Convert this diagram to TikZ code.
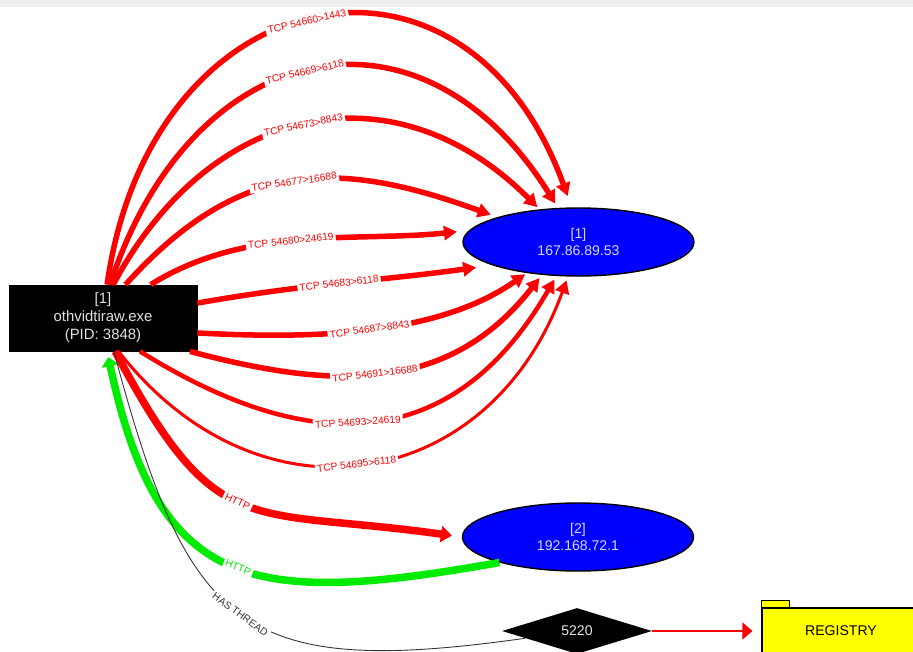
\documentclass[tikz,border=0pt]{standalone}
\usepackage{fontspec}
\setmainfont{Liberation Sans}
\usepackage{tikz}
\usetikzlibrary{arrows.meta,shapes.geometric}
\definecolor{netred}{RGB}{255,0,0}
\definecolor{netgreen}{RGB}{0,235,0}
\definecolor{netblue}{RGB}{0,0,255}
\definecolor{netyellow}{RGB}{255,255,0}
\definecolor{paletext}{RGB}{225,225,225}
\definecolor{hosttext}{RGB}{215,215,245}
\definecolor{topbar}{RGB}{239,239,239}
\tikzset{
    procbox/.style={
        rectangle,
        draw=black,
        fill=black,
        text=paletext,
        minimum width=3.76cm,
        minimum height=1.32cm,
        align=center,
        font=\fontsize{8.5}{10.2}\selectfont
    },
    host/.style={
        ellipse,
        draw=black,
        line width=0.8pt,
        fill=netblue,
        text=hosttext,
        minimum width=4.62cm,
        minimum height=1.36cm,
        inner sep=0pt,
        align=center,
        font=\fontsize{8}{9.6}\selectfont
    },
    thrd/.style={
        diamond,
        fill=black,
        text=paletext,
        aspect=3.2,
        minimum width=3.0cm,
        minimum height=0.92cm,
        inner sep=0pt,
        font=\fontsize{8}{9.6}\selectfont
    },
    regbox/.style={
        rectangle,
        draw=black,
        fill=netyellow,
        line width=0.6pt,
        minimum width=3.16cm,
        minimum height=0.92cm,
        font=\fontsize{8}{9.6}\selectfont
    },
    tab/.style={draw=black,fill=netyellow,line width=0.6pt},
    tcp/.style={-{Triangle[length=0.26cm,width=0.28cm]},netred,line width=0.11cm},
    http/.style={-{Triangle[length=0.22cm,width=0.32cm]},netred,line width=0.15cm},
    httpin/.style={-{Triangle[length=0.18cm,width=0.34cm]},netgreen,line width=0.15cm},
    regarr/.style={-{Triangle[length=0.2cm,width=0.34cm]},netred,line width=0.6pt},
    hasthr/.style={black!80,line width=0.5pt},
    lbl/.style={fill=white,inner sep=1.2pt,sloped,text=netred,font=\fontsize{5.8}{7}\selectfont}
}

\begin{document}
\begin{tikzpicture}
\useasboundingbox (0,0) rectangle (18.26,-13.04);
\fill[topbar] (0,0) rectangle (18.26,-0.14);

\node[procbox] (proc) at (2.06,-6.36) {[1]\\othvidtiraw.exe\\(PID: 3848)};
\node[host] (ip1) at (11.57,-4.84) {[1]\\167.86.89.53};
\node[host] (ip2) at (11.56,-10.74) {[2]\\192.168.72.1};
\node[thrd] (thread) at (11.54,-12.62) {5220};
\node[regbox] (reg) at (16.82,-12.62) {REGISTRY};
\draw[tab] (reg.north west) rectangle ++(0.56,0.14);

% tcp connections to the first host
\draw[tcp,shorten >=0.24cm] (proc.83) to[out=82,in=110,looseness=1.7]
    node[lbl,pos=0.485] {TCP 54660>1443} (ip1.101);
\draw[tcp,shorten >=0.1cm] (proc.78) to[out=72,in=122,looseness=1.47]
    node[lbl,pos=0.485] {TCP 54669>6118} (ip1.121);
\draw[tcp,shorten >=0.06cm] (proc.73) to[out=62,in=135,looseness=1.22]
    node[lbl,pos=0.49] {TCP 54673>8843} (ip1.140);
\draw[tcp,shorten >=0.14cm] (proc.56) to[out=48,in=160,looseness=1.15]
    node[lbl,pos=0.5] {TCP 54677>16688} (ip1.163);
\draw[tcp,shorten >=0.24cm] (proc.35) to[out=32,in=186,looseness=0.9]
    node[lbl,pos=0.46] {TCP 54680>24619} (ip1.174);
\draw[tcp,shorten >=0.32cm] (proc.9) to[out=10,in=188,looseness=1]
    node[lbl,pos=0.48] {TCP 54683>6118} (ip1.195);
\draw[tcp,shorten >=0.04cm] (proc.-9) to[out=-3,in=215,looseness=0.85]
    node[lbl,pos=0.5] {TCP 54687>8843} (ip1.211);
\draw[tcp,shorten >=0.08cm] (proc.-21) to[out=-15,in=232,looseness=1.07]
    node[lbl,pos=0.47] {TCP 54691>16688} (ip1.222);
\draw[tcp,line width=0.09cm,shorten >=0.08cm] (proc.-42) to[out=-32,in=240,looseness=1.23]
    node[lbl,pos=0.46] {TCP 54693>24619} (ip1.237);
\draw[tcp,line width=0.06cm,shorten >=0.08cm] (proc.-65) to[out=-52,in=250,looseness=1.29]
    node[lbl,pos=0.48] {TCP 54695>6118} (ip1.253);

% http both ways
\draw[http,shorten >=0.2cm] (proc.-70) to[out=-62,in=172,looseness=1.42]
    node[lbl,pos=0.47] {HTTP} (ip2.west);
\draw[httpin,shorten >=0.12cm] (ip2.198) to[out=190,in=-78,looseness=1.43]
    node[lbl,pos=0.48,text=netgreen] {HTTP} (proc.-83);

% thread
\draw[hasthr] (proc.-72) to[out=-75,in=188,looseness=1.47]
    node[lbl,pos=0.5,text=black!80] {HAS THREAD} (thread);
\draw[regarr,shorten >=0.18cm] (thread.east) -- (reg.west);
\end{tikzpicture}
\end{document}
